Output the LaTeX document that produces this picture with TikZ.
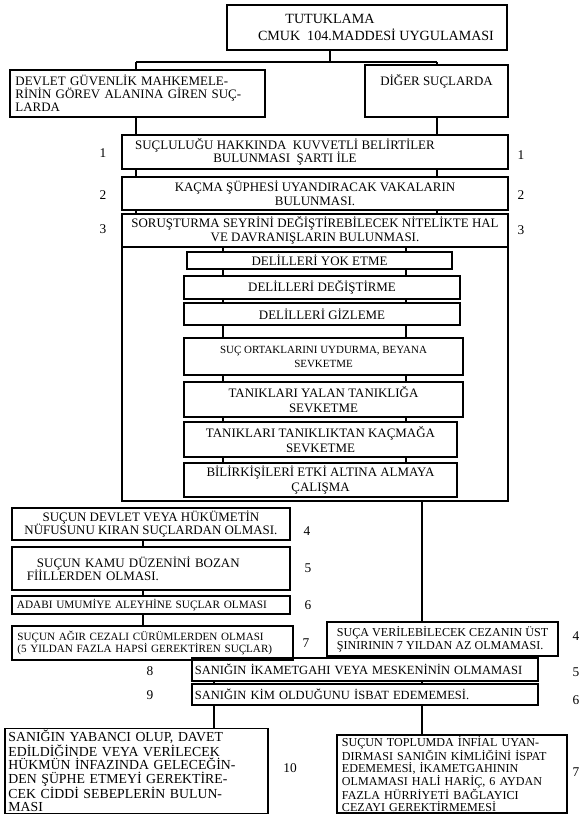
\documentclass[tikz,border=0pt]{standalone}
\usepackage{fontspec}
\setmainfont{Liberation Serif}
\begin{document}
\begin{tikzpicture}[x=0.025cm, y=-0.025cm,
  box/.style = {draw, line width=0.9pt, rectangle, inner xsep=2pt, inner ysep=1pt, align=center, font=\fontsize{9.2}{9.6}\selectfont},
  sub/.style = {font=\fontsize{9.2}{11}\selectfont},
  small/.style = {font=\fontsize{7.8}{10}\selectfont},
  txt/.style = {font=\fontsize{9.2}{9.2}\selectfont, inner sep=0pt},
  num/.style = {font=\fontsize{9.5}{10}\selectfont, inner sep=0pt},
  link/.style = {line width=0.9pt}]
\useasboundingbox (0,0) rectangle (582,816);

% top part
\node[box, minimum width=7cm, minimum height=1.125cm, font=\fontsize{10}{11.5}\selectfont] (top) at (367,27.5) {TUTUKLAMA\hspace*{1.85cm}\mbox{}\\\hspace*{0.45cm}CMUK~~104.MADDESİ UYGULAMASI};
\node[box, minimum width=6.375cm, minimum height=1.175cm, text width=6.1cm, align=left, font=\fontsize{9.2}{9.3}\selectfont] (dgm) at (137.5,93.5) {DEVLET GÜVENLİK MAHKEMELE-\\RİNİN GÖREV ALANINA GİREN SUÇ-\\LARDA};
\node[box, minimum width=3.575cm, minimum height=1.3cm, label={[txt, anchor=north, yshift=-7pt]north:DİĞER SUÇLARDA}] (diger) at (436.5,91) {};

\node[box, minimum width=9.65cm, minimum height=0.85cm] (b1) at (315,152) {SUÇLULUĞU HAKKINDA~~KUVVETLİ BELİRTİLER\hspace*{1.5cm}\mbox{}\\BULUNMASI~~ŞARTI İLE\hspace*{1.5cm}\mbox{}};
\node[box, minimum width=9.65cm, minimum height=0.825cm] (b2) at (315,193.5) {KAÇMA ŞÜPHESİ UYANDIRACAK VAKALARIN\\BULUNMASI.};
\node[box, minimum width=9.65cm, minimum height=7.175cm] (b3) at (315,357.5) {};
\node[box, minimum width=9.65cm, minimum height=0.825cm] (b3h) at (315,230.5) {SORUŞTURMA SEYRİNİ DEĞİŞTİREBİLECEK NİTELİKTE HAL\\VE DAVRANIŞLARIN BULUNMASI.};

\node[box, minimum width=6.625cm, minimum height=0.425cm] (s1) at (319.5,260.5) {DELİLLERİ YOK ETME};
\node[box, minimum width=6.9cm, minimum height=0.575cm] (s2) at (322,287.5) {DELİLLERİ DEĞİŞTİRME};
\node[box, minimum width=6.9cm, minimum height=0.55cm] (s3) at (322,314) {DELİLLERİ GİZLEME};
\node[box, small, minimum width=6.975cm, minimum height=0.925cm] (s4) at (323.5,356.5) {SUÇ ORTAKLARINI UYDURMA, BEYANA\\SEVKETME};
\node[box, sub, minimum width=6.975cm, minimum height=0.875cm] (s5) at (323.5,399.5) {TANIKLARI YALAN TANIKLIĞA\\SEVKETME};
\node[box, sub, minimum width=6.825cm, minimum height=0.875cm] (s6) at (320.5,439.5) {TANIKLARI TANIKLIKTAN KAÇMAĞA\\SEVKETME};
\node[box, sub, minimum width=6.825cm, minimum height=0.85cm] (s7) at (320.5,480) {BİLİRKİŞİLERİ ETKİ ALTINA ALMAYA\\ÇALIŞMA};

% lower part
\node[box, minimum width=6.95cm, minimum height=0.8cm] (l4) at (151,524) {SUÇUN DEVLET VEYA HÜKÜMETİN\\NÜFUSUNU KIRAN SUÇLARDAN OLMASI.};
\node[box, minimum width=6.95cm, minimum height=1.075cm, text width=6.2cm, align=left] (l5) at (151,568.5) {\hspace*{0.25cm}SUÇUN KAMU DÜZENİNİ BOZAN\\FİİLLERDEN OLMASI.};
\node[box, minimum width=6.95cm, minimum height=0.45cm, text width=6.7cm, align=left, font=\fontsize{8}{8.6}\selectfont] (l6) at (151,605) {ADABI UMUMİYE ALEYHİNE SUÇLAR OLMASI};
\node[box, minimum width=7.025cm, minimum height=0.85cm, text width=6.75cm, align=left, font=\fontsize{7.9}{8.6}\selectfont] (l7) at (152.5,643) {SUÇUN AĞIR CEZALI CÜRÜMLERDEN OLMASI\\(5 YILDAN FAZLA HAPSİ GEREKTİREN SUÇLAR)};
\node[box, minimum width=5.775cm, minimum height=0.85cm, align=left, font=\fontsize{8.6}{9.2}\selectfont] (r4) at (442.5,639) {SUÇA VERİLEBİLECEK CEZANIN ÜST\\ŞINIRININ 7 YILDAN AZ OLMAMASI.};
\node[box, minimum width=8.65cm, minimum height=0.575cm, text width=8.5cm, align=left, font=\fontsize{8.9}{9.2}\selectfont] (b8) at (365,669.5) {SANIĞIN İKAMETGAHI VEYA MESKENİNİN OLMAMASI};
\node[box, minimum width=8.65cm, minimum height=0.525cm, text width=8.5cm, align=left, font=\fontsize{8.9}{9.2}\selectfont] (b9) at (365,694.5) {SANIĞIN KİM OLDUĞUNU İSBAT EDEMEMESİ.};
\node[box, minimum width=6.575cm, minimum height=2.05cm, text width=6.4cm, align=left, font=\fontsize{9.8}{9.3}\selectfont] (l10) at (136.5,771) {SANIĞIN YABANCI OLUP, DAVET\\EDİLDİĞİNDE VEYA VERİLECEK\\HÜKMÜN İNFAZINDA GELECEĞİN-\\DEN ŞÜPHE ETMEYİ GEREKTİRE-\\CEK CİDDİ SEBEPLERİN BULUN-\\MASI};
\node[box, minimum width=5.75cm, minimum height=1.9cm, text width=5.5cm, align=left, font=\fontsize{8.6}{8.3}\selectfont] (r7) at (452,774) {SUÇUN TOPLUMDA İNFİAL UYAN-\\DIRMASI SANIĞIN KİMLİĞİNİ İSPAT\\EDEMEMESİ, İKAMETGAHININ\\OLMAMASI HALİ HARİÇ, 6 AYDAN\\FAZLA HÜRRİYETİ BAĞLAYICI\\CEZAYI GEREKTİRMEMESİ};

% numbers
\node[num] (n1l) at (103,153) {1};
\node[num] (n1r) at (521,155) {1};
\node[num] (n2l) at (103,195) {2};
\node[num] (n2r) at (521,195) {2};
\node[num] (n3l) at (103,229) {3};
\node[num] (n3r) at (521,230) {3};
\node[num] (n4l) at (307,531) {4};
\node[num] (n5l) at (308,568) {5};
\node[num] (n6l) at (308,605) {6};
\node[num] (n7l) at (306,643) {7};
\node[num] (n4r) at (576,636) {4};
\node[num] (n8) at (150,671) {8};
\node[num] (n5r) at (576,672) {5};
\node[num] (n9) at (150,695) {9};
\node[num] (n6r) at (576,700) {6};
\node[num] (n10) at (290,768) {10};
\node[num] (n7r) at (576,772) {7};

% connector columns
\coordinate (hub) at (330,62);
\coordinate (xa) at (136,0);
\coordinate (xb) at (437,0);
\coordinate (xc) at (223,0);
\coordinate (xd) at (406,0);
\coordinate (xe) at (143,0);
\coordinate (xf) at (422,0);
\coordinate (xg) at (214,0);

\draw[link] (top.south -| hub) -- (hub);
\draw[link] (hub -| xa) -- (hub -| xb);
\draw[link] (hub -| xa) -- (dgm.north -| xa);
\draw[link] (hub -| xb) -- (diger.north -| xb);
\draw[link] (dgm.south -| xa) -- (b1.north -| xa);
\draw[link] (diger.south -| xb) -- (b1.north -| xb);
\foreach \a/\b in {b1/b2, b2/b3h}
  \foreach \c in {xa, xb}
    \draw[link] (\a.south -| \c) -- (\b.north -| \c);
\foreach \a/\b in {b3h/s1, s1/s2, s2/s3, s3/s4, s4/s5, s5/s6, s6/s7}
  \foreach \c in {xc, xd}
    \draw[link] (\a.south -| \c) -- (\b.north -| \c);
\foreach \a/\b in {l4/l5, l5/l6, l6/l7}
  \draw[link] (\a.south -| xe) -- (\b.north -| xe);
\draw[link] (b3.south -| xf) -- (r4.north -| xf);
\draw[link] (r4.south -| xf) -- (b8.north -| xf);
\draw[link] (l7.south -| xg) -- (b8.north -| xg);
\foreach \c in {xg, xf}
  \draw[link] (b8.south -| \c) -- (b9.north -| \c);
\draw[link] (b9.south -| xg) -- (l10.north -| xg);
\draw[link] (b9.south -| xf) -- (r7.north -| xf);
\end{tikzpicture}
\end{document}
